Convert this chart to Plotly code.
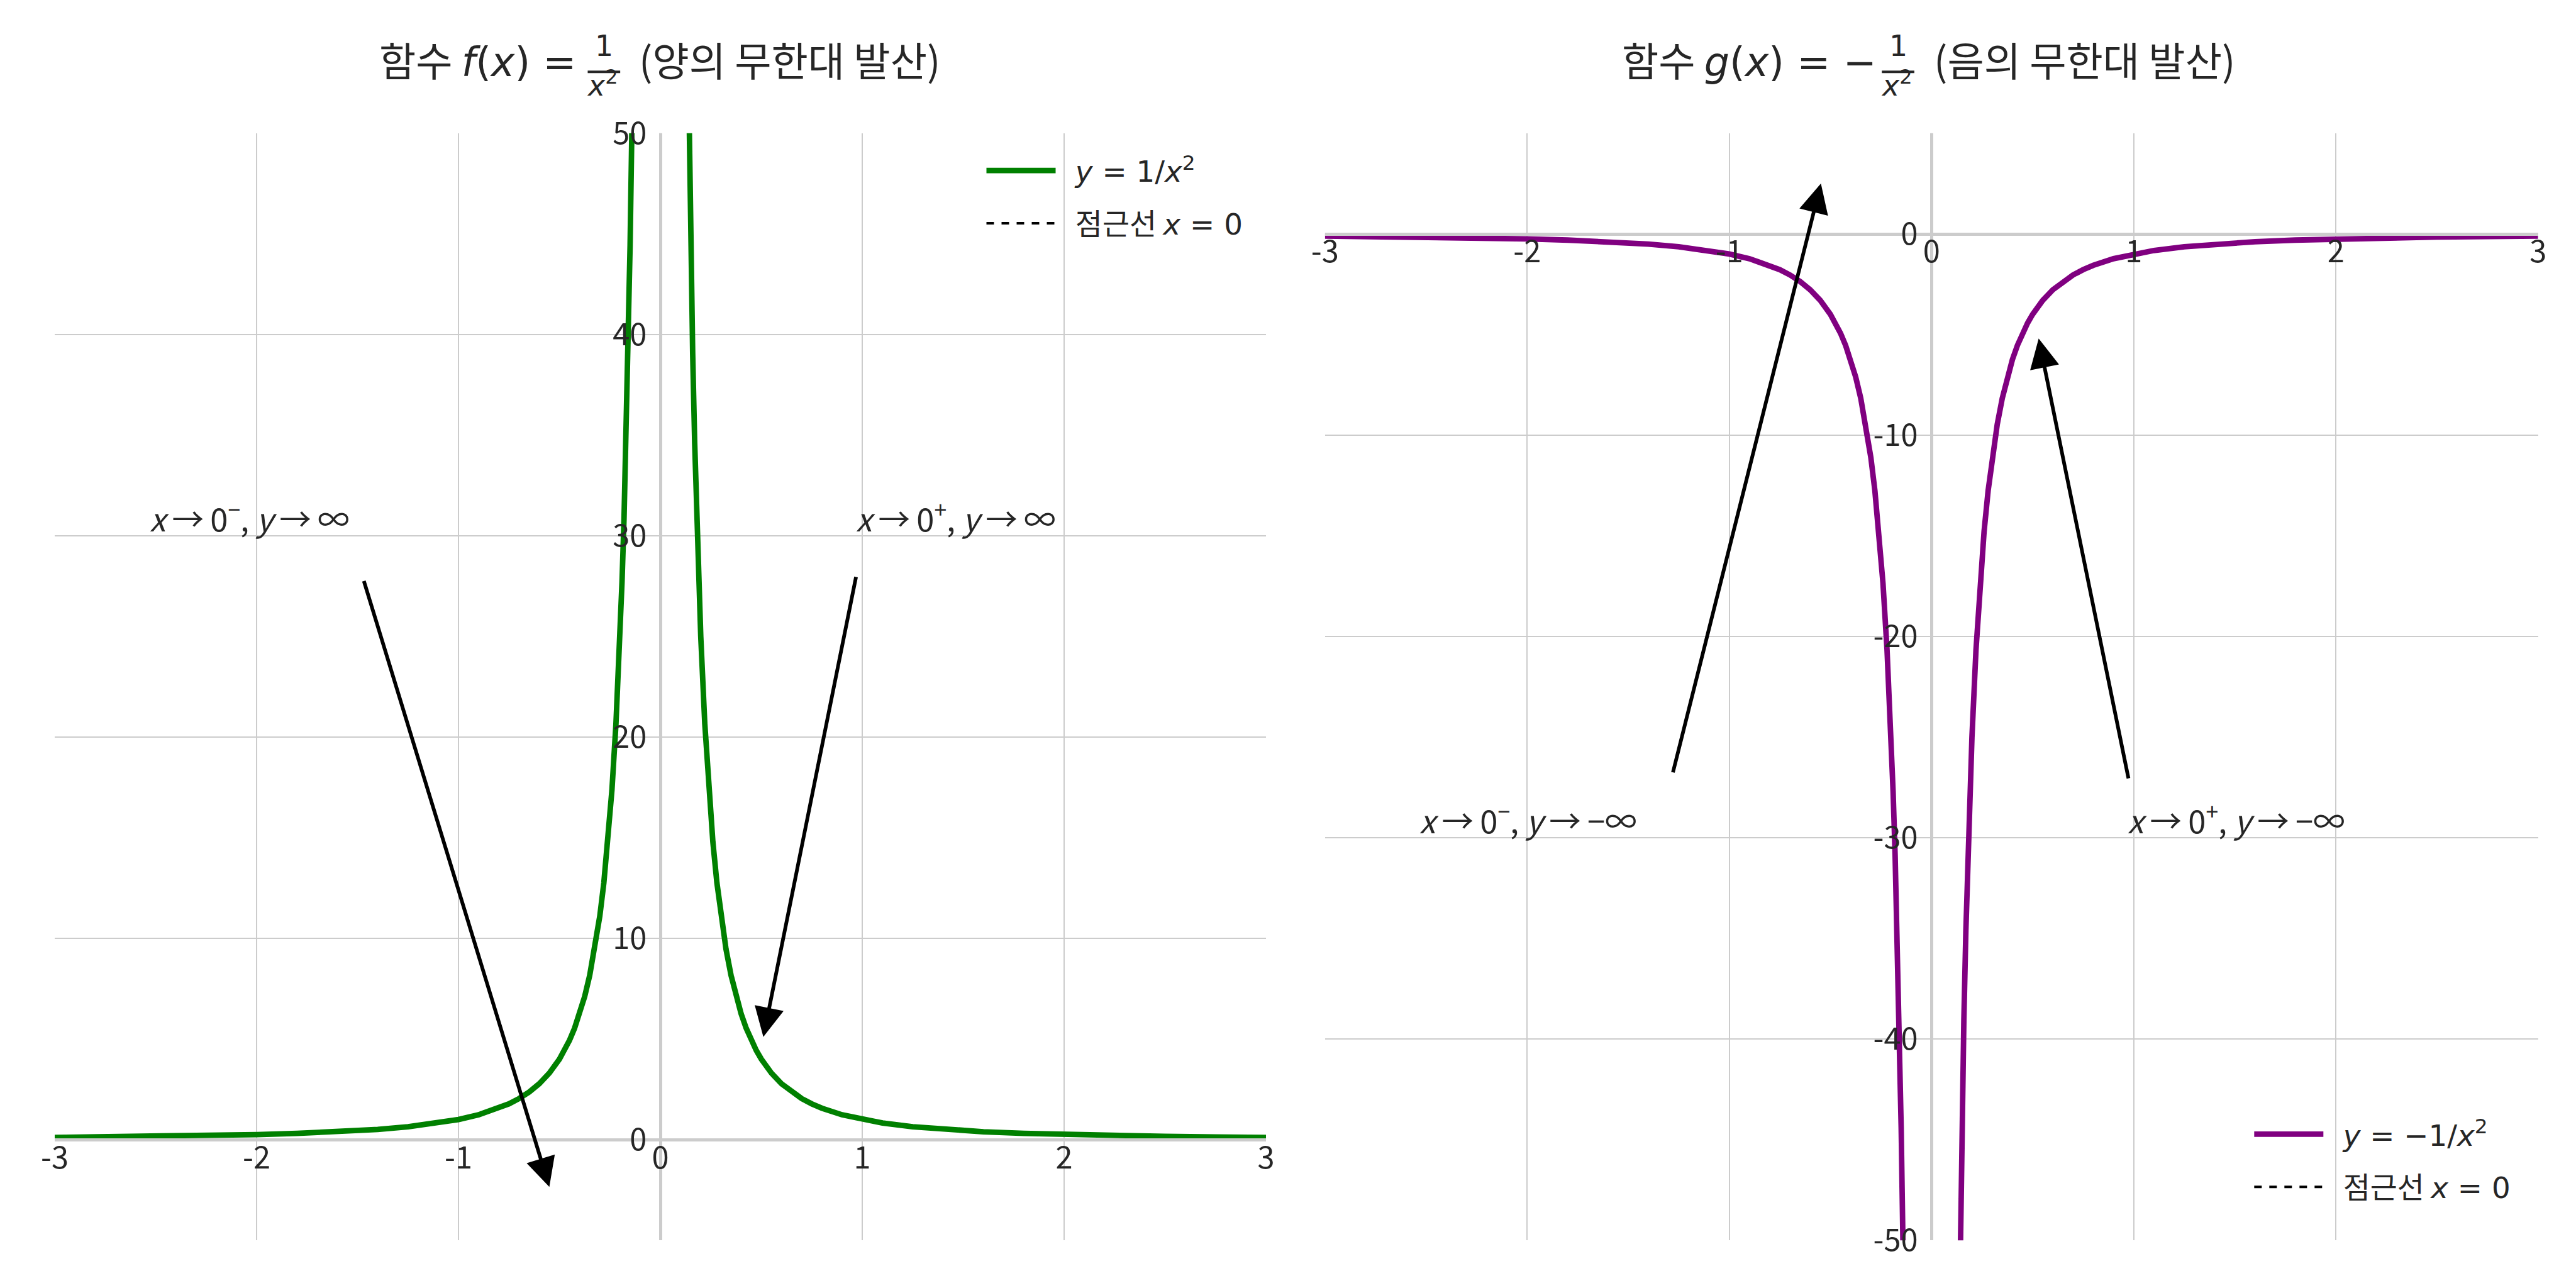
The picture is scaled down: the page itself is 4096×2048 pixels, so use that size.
import plotly.graph_objects as go

# ---------------- data ----------------
x_ticks = [-3, -2, -1, 0, 1, 2, 3]
x_tick_text = ["-3", "-2", "-1", "0", "1", "2", "3"]
f_y_ticks = [0, 10, 20, 30, 40, 50]
f_y_tick_text = ["0", "10", "20", "30", "40", "50"]
g_y_ticks = [0, -10, -20, -30, -40, -50]
g_y_tick_text = ["0", "-10", "-20", "-30", "-40", "-50"]

x_left_branch = [-3.0, -2.75, -2.5, -2.25, -2.0, -1.8, -1.6, -1.4, -1.25, -1.1, -1.0, -0.9,
                 -0.8, -0.75, -0.7, -0.65, -0.6, -0.55, -0.5, -0.475, -0.45, -0.425, -0.4,
                 -0.375, -0.35, -0.325, -0.3, -0.28, -0.26, -0.24, -0.22, -0.2, -0.19, -0.18,
                 -0.17, -0.16, -0.15, -0.14, -0.13]
x_right_branch = [0.13, 0.14, 0.15, 0.16, 0.17, 0.18, 0.19, 0.2, 0.22, 0.24, 0.26, 0.28, 0.3,
                  0.325, 0.35, 0.375, 0.4, 0.425, 0.45, 0.475, 0.5, 0.55, 0.6, 0.65, 0.7, 0.75,
                  0.8, 0.9, 1.0, 1.1, 1.25, 1.4, 1.6, 1.8, 2.0, 2.25, 2.5, 2.75, 3.0]
f_left_branch = [0.111, 0.132, 0.160, 0.198, 0.250, 0.309, 0.391, 0.510, 0.640, 0.826, 1.0,
                 1.235, 1.563, 1.778, 2.041, 2.367, 2.778, 3.306, 4.0, 4.432, 4.938, 5.536,
                 6.25, 7.111, 8.163, 9.467, 11.11, 12.76, 14.79, 17.36, 20.66, 25.0, 27.70,
                 30.86, 34.60, 39.06, 44.44, 51.02, 59.17]
f_right_branch = [59.17, 51.02, 44.44, 39.06, 34.60, 30.86, 27.70, 25.0, 20.66, 17.36, 14.79,
                  12.76, 11.11, 9.467, 8.163, 7.111, 6.25, 5.536, 4.938, 4.432, 4.0, 3.306,
                  2.778, 2.367, 2.041, 1.778, 1.563, 1.235, 1.0, 0.826, 0.640, 0.510, 0.391,
                  0.309, 0.250, 0.198, 0.160, 0.132, 0.111]
g_left_branch = [-0.111, -0.132, -0.160, -0.198, -0.250, -0.309, -0.391, -0.510, -0.640, -0.826,
                 -1.0, -1.235, -1.563, -1.778, -2.041, -2.367, -2.778, -3.306, -4.0, -4.432,
                 -4.938, -5.536, -6.25, -7.111, -8.163, -9.467, -11.11, -12.76, -14.79, -17.36,
                 -20.66, -25.0, -27.70, -30.86, -34.60, -39.06, -44.44, -51.02, -59.17]
g_right_branch = [-59.17, -51.02, -44.44, -39.06, -34.60, -30.86, -27.70, -25.0, -20.66, -17.36,
                  -14.79, -12.76, -11.11, -9.467, -8.163, -7.111, -6.25, -5.536, -4.938, -4.432,
                  -4.0, -3.306, -2.778, -2.367, -2.041, -1.778, -1.563, -1.235, -1.0, -0.826,
                  -0.640, -0.510, -0.391, -0.309, -0.250, -0.198, -0.160, -0.132, -0.111]
asym_x = [0, 0]
f_asym_y = [-5, 50]
g_asym_y = [-50, 5]

f_range_x = [-3, 3]
f_range_y = [-5, 50]
g_range_x = [-3, 3]
g_range_y = [-50, 5]

# annotation arrows: (tail x, tail y, head x, head y)
f_arrows = [(-1.47, 27.8, -0.55, -2.35), (0.97, 28.0, 0.51, 5.1)]
g_arrows = [(-1.28, -26.8, -0.547, 2.5), (0.975, -27.1, 0.53, -5.2)]
f_notes = [(-2.5, "<i>x</i>\u2009\u2192\u20090<sup>\u2212</sup>, <i>y</i>\u2009\u2192\u2009\u221e"),
           (1.0, "<i>x</i>\u2009\u2192\u20090<sup>+</sup>, <i>y</i>\u2009\u2192\u2009\u221e")]
g_notes = [(-2.5, "<i>x</i>\u2009\u2192\u20090<sup>\u2212</sup>, <i>y</i>\u2009\u2192\u2009\u2212\u221e"),
           (1.0, "<i>x</i>\u2009\u2192\u20090<sup>+</sup>, <i>y</i>\u2009\u2192\u2009\u2212\u221e")]
f_note_y = 30.55
g_note_y = -29.45

# ---------------- layout constants ----------------
W, H = 4096, 2048
RW, RH = 4200.0, 2100.0
S = W / RW
FONT = "Noto Sans CJK KR, DejaVu Sans, sans-serif"
TXT = "#262626"
GRID = "#cccccc"


def m(t):
    return '<span style="font-family:DejaVu Sans">' + t + "</span>"


def px(fx):
    return fx / RW


def py(fy):
    return 1 - fy / RH


dom_y = [py(2014), py(209)]
dom_x1 = [px(81), px(2056)]
dom_x2 = [px(2152), px(4130)]


def frac(dom, rng, v):
    return dom[0] + (v - rng[0]) / (rng[1] - rng[0]) * (dom[1] - dom[0])


LEGPAD = "\u2002\u200a"

fig = go.Figure()

fig.add_trace(go.Scatter(x=asym_x, y=f_asym_y, mode="lines", xaxis="x", yaxis="y",
                         line=dict(color="black", width=4, dash="dash"),
                         name=LEGPAD + "\uc810\uadfc\uc120 " + m("<i>x</i> = 0"),
                         legend="legend", legendrank=2, legendgroup="a1"))
fig.add_trace(go.Scatter(x=x_left_branch + [None] + x_right_branch,
                         y=f_left_branch + [None] + f_right_branch,
                         mode="lines", xaxis="x", yaxis="y", connectgaps=False,
                         line=dict(color="green", width=9 * S),
                         name=LEGPAD + m("<i>y</i> = 1/<i>x</i><sup>2</sup>"),
                         legend="legend", legendrank=1, legendgroup="f1"))
fig.add_trace(go.Scatter(x=asym_x, y=g_asym_y, mode="lines", xaxis="x2", yaxis="y2",
                         line=dict(color="black", width=4, dash="dash"),
                         name=LEGPAD + "\uc810\uadfc\uc120 " + m("<i>x</i> = 0"),
                         legend="legend2", legendrank=2, legendgroup="a2"))
fig.add_trace(go.Scatter(x=x_left_branch + [None] + x_right_branch,
                         y=g_left_branch + [None] + g_right_branch,
                         mode="lines", xaxis="x2", yaxis="y2", connectgaps=False,
                         line=dict(color="purple", width=9 * S),
                         name=LEGPAD + m("<i>y</i> = \u22121/<i>x</i><sup>2</sup>"),
                         legend="legend2", legendrank=1, legendgroup="g1"))

tickfont = dict(family=FONT, size=50 * S, color=TXT)


def xaxis(dom, rng, ydom, yrng):
    return dict(domain=dom, range=rng, anchor="free", position=frac(ydom, yrng, 0),
                tickmode="array", tickvals=x_ticks, ticktext=x_tick_text,
                showgrid=True, gridcolor=GRID, gridwidth=2, zeroline=False,
                showline=True, linecolor=GRID, linewidth=5 * S, layer="above traces",
                ticks="", tickfont=tickfont, ticklabelstandoff=-16, side="bottom",
                automargin=False, fixedrange=True)


def yaxis(dom, rng, yticks, ytext, xdom, xrng):
    return dict(domain=dom, range=rng, anchor="free", position=frac(xdom, xrng, 0),
                tickmode="array", tickvals=yticks, ticktext=ytext,
                showgrid=True, gridcolor=GRID, gridwidth=2, zeroline=False,
                showline=True, linecolor=GRID, linewidth=5 * S, layer="above traces",
                ticks="", tickfont=tickfont, ticklabelstandoff=10, side="left",
                automargin=False, fixedrange=True)


annotations = []
shapes = []

# titles built from text + stacked fraction
TF = 65 * S
FF = 47 * S
SHIFT = 0.25  # em fraction to lift text so glyphs centre on the anchor


def title(part1_right, part1, bar_l, bar_r, part3_left, part3):
    cy = py(103)
    annotations.append(dict(xref="paper", yref="paper", x=px(part1_right), y=cy, text=part1,
                            showarrow=False, xanchor="right", yanchor="middle", yshift=SHIFT * TF,
                            font=dict(family=FONT, size=TF, color=TXT)))
    annotations.append(dict(xref="paper", yref="paper", x=px(part3_left), y=cy, text=part3,
                            showarrow=False, xanchor="left", yanchor="middle", yshift=SHIFT * TF,
                            font=dict(family=FONT, size=TF, color=TXT)))
    cx = (bar_l + bar_r) / 2
    annotations.append(dict(xref="paper", yref="paper", x=px(cx), y=py(78), text=m("1"),
                            showarrow=False, xanchor="center", yanchor="middle", yshift=SHIFT * FF,
                            font=dict(family=FONT, size=FF, color=TXT)))
    annotations.append(dict(xref="paper", yref="paper", x=px(cx - 2), y=py(140),
                            text=m("<i>x</i><sup>2</sup>"),
                            showarrow=False, xanchor="center", yanchor="middle", yshift=SHIFT * FF,
                            font=dict(family=FONT, size=FF, color=TXT)))
    shapes.append(dict(type="line", xref="paper", yref="paper", x0=px(bar_l), x1=px(bar_r),
                       y0=py(109), y1=py(109), line=dict(color=TXT, width=4 * S)))


title(933, "\ud568\uc218 " + m("<i>f</i>(<i>x</i>) ="), 950, 1003, 1032,
      "(\uc591\uc758 \ubb34\ud55c\ub300 \ubc1c\uc0b0)")
title(3054, "\ud568\uc218 " + m("<i>g</i>(<i>x</i>) = \u2212"), 3060, 3113, 3143,
      "(\uc74c\uc758 \ubb34\ud55c\ub300 \ubc1c\uc0b0)")

NF = 52 * S
notefont = dict(family=FONT, size=NF, color=TXT)
for xv, t in f_notes:
    annotations.append(dict(xref="x", yref="y", x=xv, y=f_note_y, text=t, showarrow=False,
                            xanchor="left", yanchor="middle", xshift=-12, yshift=SHIFT * NF,
                            font=notefont))
for xv, t in g_notes:
    annotations.append(dict(xref="x2", yref="y2", x=xv, y=g_note_y, text=t, showarrow=False,
                            xanchor="left", yanchor="middle", xshift=-12, yshift=SHIFT * NF,
                            font=notefont))

for (tx, ty, hx, hy) in f_arrows:
    annotations.append(dict(xref="x", yref="y", axref="x", ayref="y", x=hx, y=hy, ax=tx, ay=ty,
                            text="", showarrow=True, arrowhead=2, arrowsize=1.6,
                            arrowwidth=6 * S, arrowcolor="black", standoff=0, startstandoff=0))
for (tx, ty, hx, hy) in g_arrows:
    annotations.append(dict(xref="x2", yref="y2", axref="x2", ayref="y2", x=hx, y=hy, ax=tx, ay=ty,
                            text="", showarrow=True, arrowhead=2, arrowsize=1.6,
                            arrowwidth=6 * S, arrowcolor="black", standoff=0, startstandoff=0))

legfont = dict(family=FONT, size=48 * S, color=TXT)

fig.update_layout(
    width=W, height=H,
    margin=dict(l=0, r=0, t=0, b=0, pad=0, autoexpand=False),
    paper_bgcolor="white", plot_bgcolor="white",
    font=dict(family=FONT, color=TXT),
    xaxis=xaxis(dom_x1, f_range_x, dom_y, f_range_y),
    yaxis=yaxis(dom_y, f_range_y, f_y_ticks, f_y_tick_text, dom_x1, f_range_x),
    xaxis2=xaxis(dom_x2, g_range_x, dom_y, g_range_y),
    yaxis2=yaxis(dom_y, g_range_y, g_y_ticks, g_y_tick_text, dom_x2, g_range_x),
    legend=dict(x=px(1595), y=py(232), xanchor="left", yanchor="top", font=legfont,
                bgcolor="rgba(0,0,0,0)", borderwidth=0, traceorder="grouped",
                tracegroupgap=20, itemwidth=110),
    legend2=dict(x=px(3662), y=py(1965), xanchor="left", yanchor="bottom", font=legfont,
                 bgcolor="rgba(0,0,0,0)", borderwidth=0, traceorder="grouped",
                 tracegroupgap=20, itemwidth=110),
    annotations=annotations,
    shapes=shapes,
    showlegend=True,
)

fig.write_html("out.html")
